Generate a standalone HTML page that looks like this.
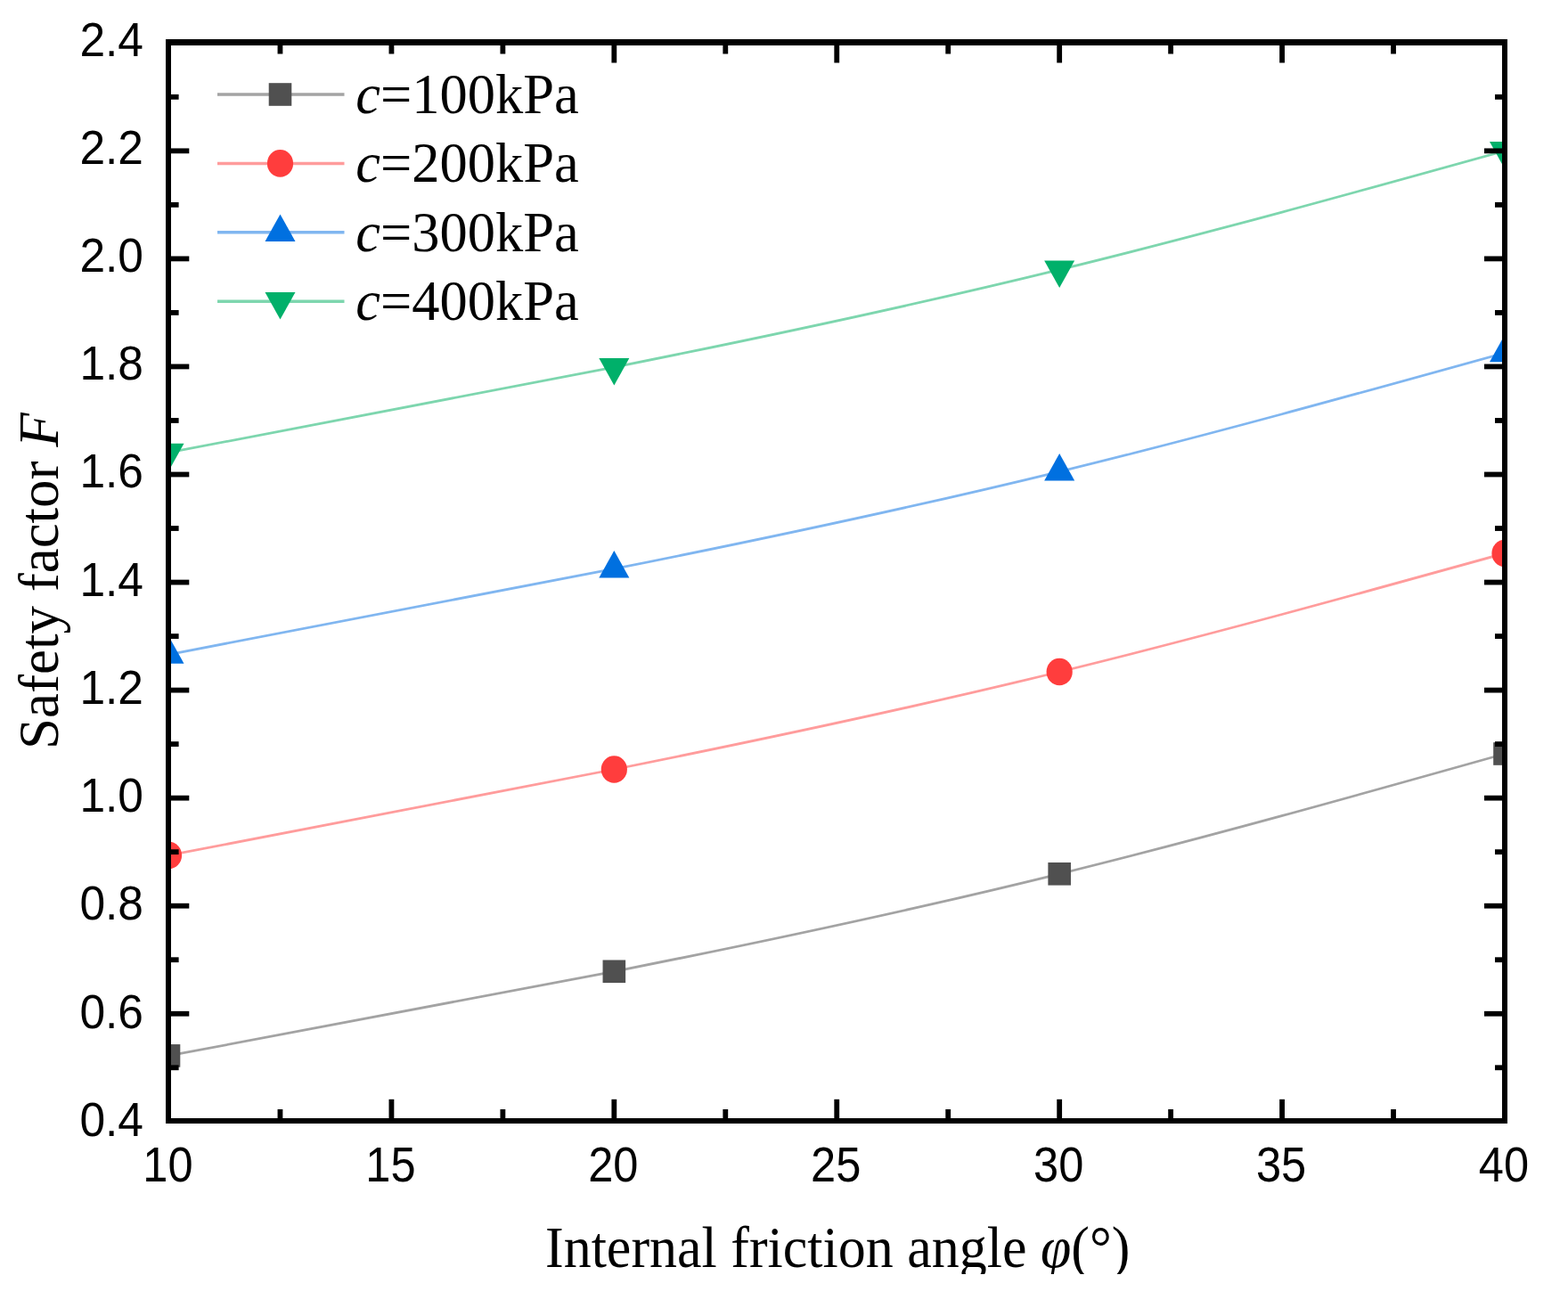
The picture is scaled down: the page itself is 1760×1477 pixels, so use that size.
<!DOCTYPE html><html><head><meta charset="utf-8"><title>Safety factor chart</title><style>
html,body{margin:0;padding:0;background:#fff;}body{width:1760px;height:1477px;overflow:hidden;}svg{display:block;}
.tk{font-family:"Liberation Sans",Arial,sans-serif;font-size:53px;fill:#000;}
.sr{font-family:"Liberation Serif","Times New Roman",serif;fill:#000;}
</style></head><body>
<svg width="1760" height="1477" viewBox="0 0 1760 1477">
<defs><clipPath id="pa"><rect x="189.50" y="47.50" width="1499.50" height="1210.50"/></clipPath>
<clipPath id="bt"><rect x="0" y="0" width="1760" height="1430"/></clipPath></defs>
<rect width="1760" height="1477" fill="#fff"/>
<g clip-path="url(#pa)" fill="none" stroke-width="2.8">
<path d="M189.50 1184.89 C356.11 1154.11 522.72 1123.34 689.33 1090.29 C855.94 1057.23 1022.56 1021.89 1189.17 980.80 C1355.78 939.70 1522.39 892.85 1689.00 846.01" stroke="#a3a3a3"/>
<path d="M189.50 959.97 C356.11 928.45 522.72 896.92 689.33 863.50 C855.94 830.07 1022.56 794.75 1189.17 754.01 C1355.78 713.27 1522.39 667.12 1689.00 620.97" stroke="#ff9c9c"/>
<path d="M189.50 734.58 C356.11 703.14 522.72 671.69 689.33 638.41 C855.94 605.12 1022.56 569.99 1189.17 529.28 C1355.78 488.57 1522.39 442.29 1689.00 396.00" stroke="#80b6f0"/>
<path d="M189.50 507.91 C356.11 476.65 522.72 445.40 689.33 412.10 C855.94 378.81 1022.56 343.48 1189.17 302.67 C1355.78 261.86 1522.39 215.57 1689.00 169.28" stroke="#7dd6ae"/>
</g>
<g clip-path="url(#pa)">
<rect x="176.70" y="1172.09" width="25.60" height="25.60" fill="#505050"/>
<rect x="676.53" y="1077.49" width="25.60" height="25.60" fill="#505050"/>
<rect x="1176.37" y="968.00" width="25.60" height="25.60" fill="#505050"/>
<rect x="1676.20" y="833.21" width="25.60" height="25.60" fill="#505050"/>
<ellipse cx="189.50" cy="959.97" rx="14.60" ry="15.33" fill="#ff3d3d"/>
<ellipse cx="689.33" cy="863.50" rx="14.60" ry="15.33" fill="#ff3d3d"/>
<ellipse cx="1189.17" cy="754.01" rx="14.60" ry="15.33" fill="#ff3d3d"/>
<ellipse cx="1689.00" cy="620.97" rx="14.60" ry="15.33" fill="#ff3d3d"/>
<polygon points="189.50,714.25 172.50,744.75 206.50,744.75" fill="#0070e0"/>
<polygon points="689.33,618.07 672.33,648.57 706.33,648.57" fill="#0070e0"/>
<polygon points="1189.17,508.95 1172.17,539.45 1206.17,539.45" fill="#0070e0"/>
<polygon points="1689.00,375.67 1672.00,406.17 1706.00,406.17" fill="#0070e0"/>
<polygon points="172.50,497.75 206.50,497.75 189.50,528.25" fill="#00b06a"/>
<polygon points="672.33,401.94 706.33,401.94 689.33,432.44" fill="#00b06a"/>
<polygon points="1172.17,292.51 1206.17,292.51 1189.17,323.01" fill="#00b06a"/>
<polygon points="1672.00,159.11 1706.00,159.11 1689.00,189.61" fill="#00b06a"/>
</g>
<line x1="244.00" y1="106.00" x2="386.50" y2="106.00" stroke="#a3a3a3" stroke-width="3.5"/>
<rect x="301.70" y="93.20" width="25.60" height="25.60" fill="#505050"/>
<text class="sr" font-size="62" transform="translate(399.30 127.00) scale(1.008 1.02)"><tspan font-style="italic">c</tspan>=100kPa</text>
<line x1="244.00" y1="183.40" x2="386.50" y2="183.40" stroke="#ff9c9c" stroke-width="3.5"/>
<ellipse cx="314.50" cy="183.40" rx="14.60" ry="15.33" fill="#ff3d3d"/>
<text class="sr" font-size="62" transform="translate(399.30 204.40) scale(1.008 1.02)"><tspan font-style="italic">c</tspan>=200kPa</text>
<line x1="244.00" y1="260.80" x2="386.50" y2="260.80" stroke="#80b6f0" stroke-width="3.5"/>
<polygon points="314.50,240.47 297.50,270.97 331.50,270.97" fill="#0070e0"/>
<text class="sr" font-size="62" transform="translate(399.30 281.80) scale(1.008 1.02)"><tspan font-style="italic">c</tspan>=300kPa</text>
<line x1="244.00" y1="338.20" x2="386.50" y2="338.20" stroke="#7dd6ae" stroke-width="3.5"/>
<polygon points="297.50,328.03 331.50,328.03 314.50,358.53" fill="#00b06a"/>
<text class="sr" font-size="62" transform="translate(399.30 359.20) scale(1.008 1.02)"><tspan font-style="italic">c</tspan>=400kPa</text>
<g fill="#000">
<rect x="186.00" y="44.00" width="6.00" height="1217.00"/>
<rect x="1686.00" y="44.00" width="6.00" height="1217.00"/>
<rect x="186.00" y="44.00" width="1506.00" height="7.00"/>
<rect x="186.00" y="1255.00" width="1506.00" height="6.00"/>
<rect x="311.56" y="1245.00" width="5.80" height="10.00"/>
<rect x="311.56" y="51.00" width="5.80" height="9.50"/>
<rect x="436.52" y="1233.80" width="5.80" height="21.20"/>
<rect x="436.52" y="51.00" width="5.80" height="9.50"/>
<rect x="561.48" y="1245.00" width="5.80" height="10.00"/>
<rect x="561.48" y="51.00" width="5.80" height="9.50"/>
<rect x="686.43" y="1233.80" width="5.80" height="21.20"/>
<rect x="686.43" y="51.00" width="5.80" height="19.50"/>
<rect x="811.39" y="1245.00" width="5.80" height="10.00"/>
<rect x="811.39" y="51.00" width="5.80" height="9.50"/>
<rect x="936.35" y="1233.80" width="5.80" height="21.20"/>
<rect x="936.35" y="51.00" width="5.80" height="19.50"/>
<rect x="1061.31" y="1245.00" width="5.80" height="10.00"/>
<rect x="1061.31" y="51.00" width="5.80" height="9.50"/>
<rect x="1186.27" y="1233.80" width="5.80" height="21.20"/>
<rect x="1186.27" y="51.00" width="5.80" height="19.50"/>
<rect x="1311.22" y="1245.00" width="5.80" height="10.00"/>
<rect x="1311.22" y="51.00" width="5.80" height="9.50"/>
<rect x="1436.18" y="1233.80" width="5.80" height="21.20"/>
<rect x="1436.18" y="51.00" width="5.80" height="19.50"/>
<rect x="1561.14" y="1245.00" width="5.80" height="10.00"/>
<rect x="1561.14" y="51.00" width="5.80" height="9.50"/>
<rect x="192.00" y="1195.37" width="8.60" height="5.80"/>
<rect x="1678.00" y="1195.37" width="8.00" height="5.80"/>
<rect x="192.00" y="1134.85" width="20.30" height="5.80"/>
<rect x="1666.00" y="1134.85" width="20.00" height="5.80"/>
<rect x="192.00" y="1074.32" width="8.60" height="5.80"/>
<rect x="1678.00" y="1074.32" width="8.00" height="5.80"/>
<rect x="192.00" y="1013.80" width="20.30" height="5.80"/>
<rect x="1666.00" y="1013.80" width="20.00" height="5.80"/>
<rect x="192.00" y="953.27" width="8.60" height="5.80"/>
<rect x="1678.00" y="953.27" width="8.00" height="5.80"/>
<rect x="192.00" y="892.75" width="20.30" height="5.80"/>
<rect x="1666.00" y="892.75" width="20.00" height="5.80"/>
<rect x="192.00" y="832.22" width="8.60" height="5.80"/>
<rect x="1678.00" y="832.22" width="8.00" height="5.80"/>
<rect x="192.00" y="771.70" width="20.30" height="5.80"/>
<rect x="1666.00" y="771.70" width="20.00" height="5.80"/>
<rect x="192.00" y="711.17" width="8.60" height="5.80"/>
<rect x="1678.00" y="711.17" width="8.00" height="5.80"/>
<rect x="192.00" y="650.65" width="20.30" height="5.80"/>
<rect x="1666.00" y="650.65" width="20.00" height="5.80"/>
<rect x="192.00" y="590.12" width="8.60" height="5.80"/>
<rect x="1678.00" y="590.12" width="8.00" height="5.80"/>
<rect x="192.00" y="529.60" width="20.30" height="5.80"/>
<rect x="1666.00" y="529.60" width="20.00" height="5.80"/>
<rect x="192.00" y="469.07" width="8.60" height="5.80"/>
<rect x="1678.00" y="469.07" width="8.00" height="5.80"/>
<rect x="192.00" y="408.55" width="20.30" height="5.80"/>
<rect x="1666.00" y="408.55" width="20.00" height="5.80"/>
<rect x="192.00" y="348.03" width="8.60" height="5.80"/>
<rect x="1678.00" y="348.03" width="8.00" height="5.80"/>
<rect x="192.00" y="287.50" width="20.30" height="5.80"/>
<rect x="1666.00" y="287.50" width="20.00" height="5.80"/>
<rect x="192.00" y="226.97" width="8.60" height="5.80"/>
<rect x="1678.00" y="226.97" width="8.00" height="5.80"/>
<rect x="192.00" y="166.45" width="20.30" height="5.80"/>
<rect x="1666.00" y="166.45" width="20.00" height="5.80"/>
<rect x="192.00" y="105.92" width="8.60" height="5.80"/>
<rect x="1678.00" y="105.92" width="8.00" height="5.80"/>
</g>
<text class="tk" text-anchor="end" transform="translate(161 1274.80) scale(0.972 1.03)">0.4</text>
<text class="tk" text-anchor="end" transform="translate(161 1153.57) scale(0.972 1.03)">0.6</text>
<text class="tk" text-anchor="end" transform="translate(161 1032.34) scale(0.972 1.03)">0.8</text>
<text class="tk" text-anchor="end" transform="translate(161 911.11) scale(0.972 1.03)">1.0</text>
<text class="tk" text-anchor="end" transform="translate(161 789.88) scale(0.972 1.03)">1.2</text>
<text class="tk" text-anchor="end" transform="translate(161 668.65) scale(0.972 1.03)">1.4</text>
<text class="tk" text-anchor="end" transform="translate(161 547.42) scale(0.972 1.03)">1.6</text>
<text class="tk" text-anchor="end" transform="translate(161 426.19) scale(0.972 1.03)">1.8</text>
<text class="tk" text-anchor="end" transform="translate(161 304.96) scale(0.972 1.03)">2.0</text>
<text class="tk" text-anchor="end" transform="translate(161 183.73) scale(0.972 1.03)">2.2</text>
<text class="tk" text-anchor="end" transform="translate(161 62.50) scale(0.972 1.03)">2.4</text>
<text class="tk" text-anchor="middle" transform="translate(188.50 1325.6) scale(0.955 1.04)">10</text>
<text class="tk" text-anchor="middle" transform="translate(438.42 1325.6) scale(0.955 1.04)">15</text>
<text class="tk" text-anchor="middle" transform="translate(688.33 1325.6) scale(0.955 1.04)">20</text>
<text class="tk" text-anchor="middle" transform="translate(938.25 1325.6) scale(0.955 1.04)">25</text>
<text class="tk" text-anchor="middle" transform="translate(1188.17 1325.6) scale(0.955 1.04)">30</text>
<text class="tk" text-anchor="middle" transform="translate(1438.08 1325.6) scale(0.955 1.04)">35</text>
<text class="tk" text-anchor="middle" transform="translate(1688.00 1325.6) scale(0.955 1.04)">40</text>
<text class="sr" font-size="63" transform="translate(64.5 841) rotate(-90)">Safety factor <tspan font-style="italic">F</tspan></text>
<g clip-path="url(#bt)"><text class="sr" font-size="62" transform="translate(612 1421.9) scale(1 1.051)">Internal friction angle <tspan font-style="italic">φ</tspan>(°)</text></g>
</svg></body></html>
